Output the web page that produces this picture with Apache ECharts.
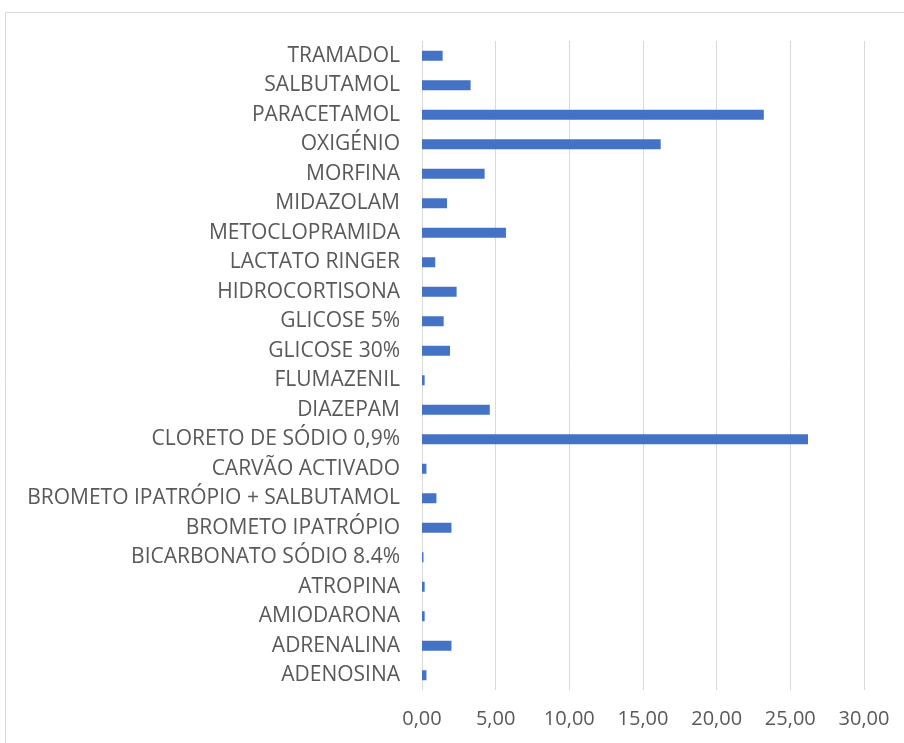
<!DOCTYPE html>
<html>
<head>
<meta charset="utf-8">
<script src="https://cdn.jsdelivr.net/npm/echarts@6/dist/echarts.min.js"></script>
<style>
  html, body { margin: 0; padding: 0; background: #fff; }
  #chart { width: 904px; height: 743px; }
</style>
</head>
<body>
<div id="chart"></div>
<script>
  // categories, bottom to top (as on the axis)
  const farmacos = [
    'ADENOSINA', 'ADRENALINA', 'AMIODARONA', 'ATROPINA', 'BICARBONATO SÓDIO 8.4%',
    'BROMETO IPATRÓPIO', 'BROMETO IPATRÓPIO + SALBUTAMOL', 'CARVÃO ACTIVADO',
    'CLORETO DE SÓDIO 0,9%', 'DIAZEPAM', 'FLUMAZENIL', 'GLICOSE 30%', 'GLICOSE 5%',
    'HIDROCORTISONA', 'LACTATO RINGER', 'METOCLOPRAMIDA', 'MIDAZOLAM', 'MORFINA',
    'OXIGÉNIO', 'PARACETAMOL', 'SALBUTAMOL', 'TRAMADOL'
  ]
  const valores = [
    0.3, 2.0, 0.18, 0.18, 0.1,
    2.0, 0.98, 0.3,
    26.2, 4.6, 0.18, 1.9, 1.47,
    2.35, 0.9, 5.7, 1.7, 4.25,
    16.2, 23.2, 3.3, 1.4
  ]
  const ticksX = [0, 5, 10, 15, 20, 25, 30]

  const chart = echarts.init(document.getElementById('chart'))
  chart.setOption({
    animation: false,
    textStyle: { fontFamily: 'Open Sans' },
    graphic: [{
      type: 'rect',
      shape: { x: 5.5, y: 12.5, width: 1000, height: 1000 },
      style: { fill: 'none', stroke: '#d9d9d9', lineWidth: 1 },
      silent: true
    }],
    grid: { left: 422, right: 40, top: 41, bottom: 53, containLabel: false },
    xAxis: {
      type: 'value',
      min: ticksX[0],
      max: ticksX[ticksX.length - 1],
      interval: 5,
      axisLine: { show: false },
      axisTick: { show: false },
      splitLine: { show: true, lineStyle: { color: '#d9d9d9', width: 1 } },
      axisLabel: {
        color: '#595959',
        fontSize: 20,
        margin: 19,
        formatter: v => v.toFixed(2).replace('.', ',')
      }
    },
    yAxis: {
      type: 'category',
      data: farmacos,
      axisLine: { show: false },
      axisTick: { show: false },
      splitLine: { show: false },
      axisLabel: { color: '#595959', fontSize: 21, margin: 22 }
    },
    series: [{
      type: 'bar',
      data: valores,
      barWidth: 10,
      itemStyle: { color: '#4472c4' }
    }]
  })
</script>
</body>
</html>
